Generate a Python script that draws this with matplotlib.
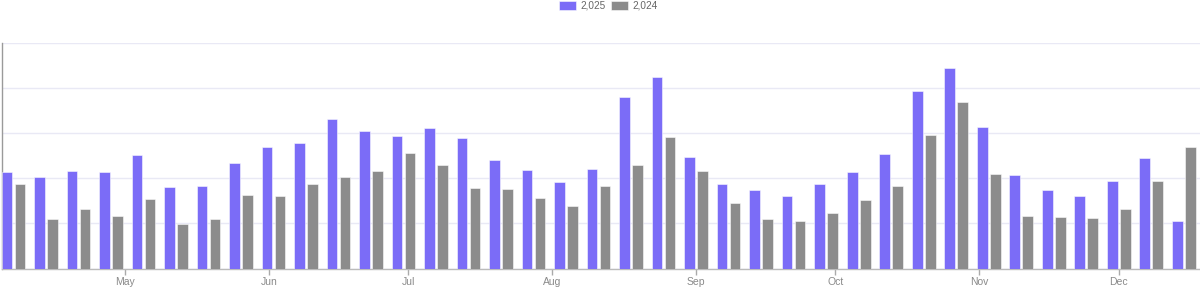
import matplotlib
matplotlib.use("Agg")
import matplotlib.pyplot as plt
import matplotlib.dates as mdates
import numpy as np
import pandas as pd

plt.rcParams['font.family'] = ['Liberation Sans', 'DejaVu Sans']

# Weekly data (Mondays), 2025-04-07 .. 2025-12-15
weeks = pd.date_range("2025-04-07", periods=37, freq="7D")
series_labels = ["2,025", "2,024"]
values_2025 = [2.15, 2.03, 2.16, 2.15, 2.52, 1.80, 1.84, 2.34, 2.69, 2.78,
               3.31, 3.06, 2.95, 3.13, 2.89, 2.41, 2.18, 1.92, 2.20, 3.80,
               4.26, 2.47, 1.88, 1.75, 1.61, 1.87, 2.14, 2.54, 3.93, 4.46,
               3.15, 2.07, 1.74, 1.61, 1.94, 2.45, 1.06]
values_2024 = [1.87, 1.11, 1.33, 1.17, 1.54, 0.98, 1.09, 1.64, 1.61, 1.87,
               2.03, 2.17, 2.56, 2.30, 1.79, 1.77, 1.56, 1.38, 1.84, 2.29,
               2.92, 2.17, 1.45, 1.11, 1.06, 1.23, 1.51, 1.83, 2.96, 3.69,
               2.09, 1.16, 1.14, 1.13, 1.32, 1.95, 2.69]

c_purple = "#7B6CF7"
c_gray = "#8C8C8C"

fig = plt.figure(figsize=(12, 2.87), dpi=100)
ax = fig.add_axes([2/1200, 18.5/287, 1 - 2/1200, (268.5 - 43.3)/287])

x = mdates.date2num(weeks)
w = 2.28
off = 1.4
ax.bar(x - off, values_2025, width=w, color=c_purple, edgecolor=(1, 1, 1, 0.6),
       linewidth=0.6, label=series_labels[0], zorder=3)
ax.bar(x + off, values_2024, width=w, color=c_gray, edgecolor=(1, 1, 1, 0.6),
       linewidth=0.6, label=series_labels[1], zorder=3)

ax.set_xlim(x[0] - 2.5, x[0] + 255.5)
ax.set_ylim(0, 5)
ax.set_yticks([0, 1, 2, 3, 4, 5])
ax.set_yticklabels([])
ax.tick_params(axis='y', length=0)
ax.grid(axis='y', color="#E9E9F5", linewidth=1, zorder=0)

ax.xaxis.set_major_locator(mdates.MonthLocator(bymonth=range(5, 13)))
ax.xaxis.set_major_formatter(mdates.DateFormatter("%b"))
ax.tick_params(axis='x', length=4, width=1, color="#AAAAAA", labelsize=7.5,
               labelcolor="#8A8A8A", pad=2)

for s in ["top", "right"]:
    ax.spines[s].set_visible(False)
ax.spines["left"].set_color("#9A9A9A")
ax.spines["bottom"].set_color("#BBBBBB")
ax.spines["left"].set_linewidth(1)
ax.spines["bottom"].set_linewidth(1)

leg = fig.legend(loc="upper center", bbox_to_anchor=(0.507, 1.028), ncol=2,
                 frameon=False, fontsize=7.2, handlelength=1.7, handleheight=0.95,
                 columnspacing=0.6, handletextpad=0.4)
for t in leg.get_texts():
    t.set_color("#666666")

fig.savefig("out.png", dpi=100)
